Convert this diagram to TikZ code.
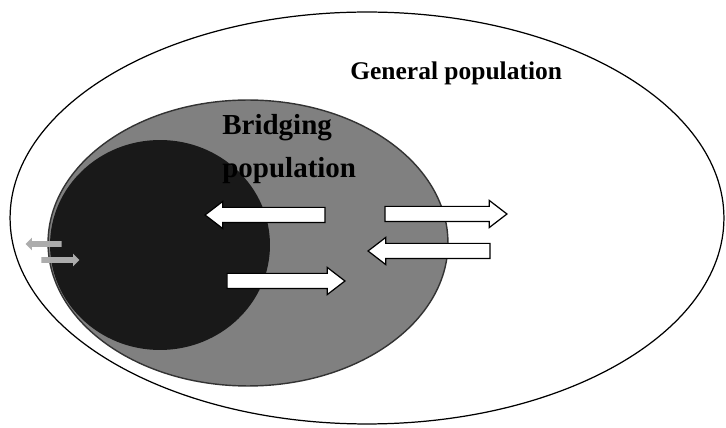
\documentclass[tikz,border=0pt]{standalone}
\usepackage{fontspec}
\setmainfont{Liberation Serif}[BoldFont={Liberation Serif Bold}]
\usetikzlibrary{shapes.arrows}
\tikzset{
    blockarrow/.style={single arrow, draw=black, fill=white, line width=0.7pt,
        inner sep=0.14cm, single arrow head extend=0.12cm, single arrow tip angle=75},
    smallarrow/.style={single arrow, fill=gray!65, draw=none,
        inner sep=0.05cm, single arrow head extend=0.07cm},
    poplabel/.style={font=\fontsize{14.5}{16}\selectfont\bfseries, inner sep=0pt}
}

\begin{document}
\begin{tikzpicture}[x=0.02cm, y=-0.02cm]
    \useasboundingbox (0,0) rectangle (726,428);
    \coordinate (G) at (367, 218);
    \coordinate (B) at (248, 243);
    \coordinate (C) at (160, 245);

    % general population
    \draw[line width=0.7pt] (G) ellipse [x radius=7.14cm, y radius=4.12cm];
    % bridging population with the core group inside it
    \fill[black!50] (B) ellipse [x radius=4cm, y radius=2.86cm];
    \begin{scope}
        \clip (B) ellipse [x radius=4cm, y radius=2.86cm];
        \fill[black!90] (C) ellipse [x radius=2.2cm, y radius=2.1cm];
    \end{scope}
    \draw[black!80, line width=0.8pt] (B) ellipse [x radius=4cm, y radius=2.86cm];

    \node[poplabel, anchor=west] (general) at (350, 73) {General population};
    \node[poplabel, font=\fontsize{16.5}{18}\selectfont\bfseries, anchor=west, align=left]
        (bridging) at (222, 149) {Bridging\\[7pt]population};

    \node[blockarrow, minimum height=2.4cm, shape border rotate=180] (inL) at (270, 215) {};
    \node[blockarrow, minimum height=2.44cm] (outR) at (441, 214) {};
    \node[blockarrow, minimum height=2.44cm, shape border rotate=180] (inR) at (434, 251) {};
    \node[blockarrow, minimum height=2.36cm] (inB) at (281, 281) {};

    \node[smallarrow, minimum height=0.72cm, shape border rotate=180] (coreL) at (45, 244) {};
    \node[smallarrow, minimum height=0.76cm] (coreR) at (59, 260) {};
\end{tikzpicture}
\end{document}
